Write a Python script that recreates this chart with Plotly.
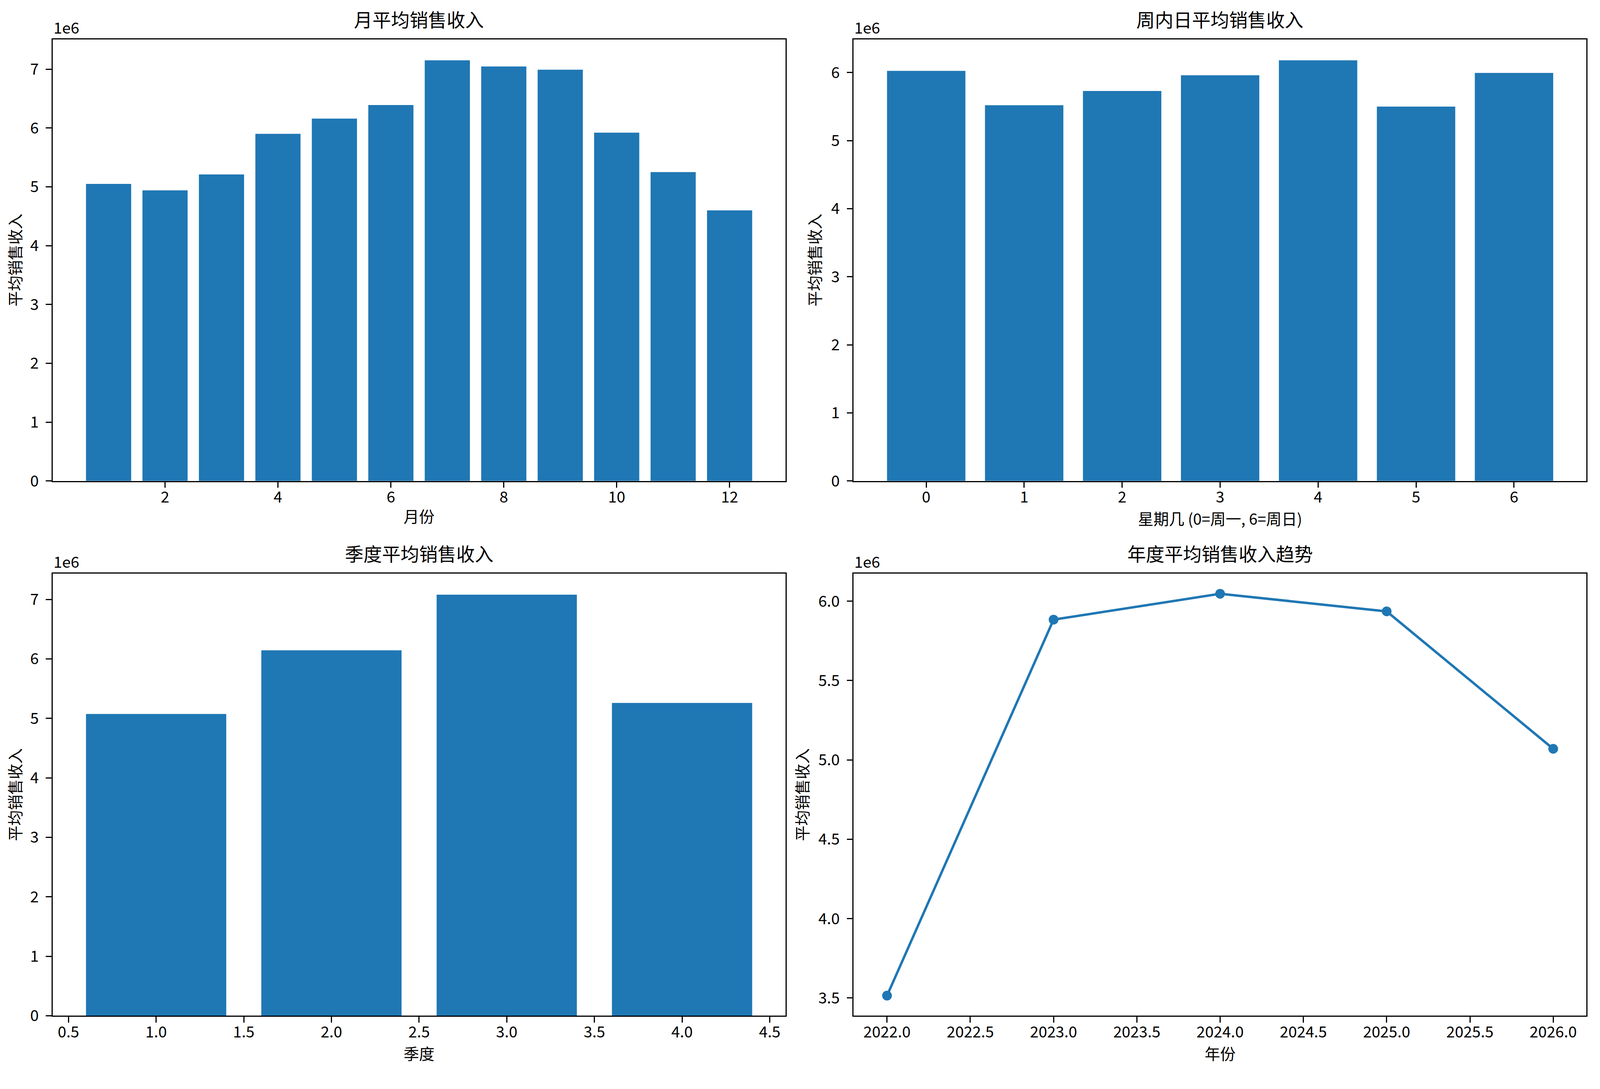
import plotly.graph_objects as go

# 数据 (单位: 元)
months = [1, 2, 3, 4, 5, 6, 7, 8, 9, 10, 11, 12]
month_avg = [5.05e6, 4.94e6, 5.21e6, 5.90e6, 6.16e6, 6.39e6,
             7.15e6, 7.045e6, 6.99e6, 5.92e6, 5.25e6, 4.60e6]

weekdays = [0, 1, 2, 3, 4, 5, 6]
weekday_avg = [6.025e6, 5.52e6, 5.73e6, 5.96e6, 6.18e6, 5.50e6, 5.995e6]

quarters = [1, 2, 3, 4]
quarter_avg = [5.075e6, 6.145e6, 7.08e6, 5.26e6]

years = [2022, 2023, 2024, 2025, 2026]
year_avg = [3.515e6, 5.884e6, 6.047e6, 5.936e6, 5.07e6]

BLUE = "#1f77b4"
FONT = "Noto Sans CJK SC"
W, H = 4469, 2789
PT = 300 / 72      # px per point (figure saved at 300 dpi)
FS = 0.95          # text scale

# axes domains (paper fractions)
LEFT = [0.0311, 0.4909]
RIGHT = [0.5337, 0.9935]
TOP = [1 - 1242 / H, 1 - 94 / H]
BOTTOM = [1 - 2632 / H, 1 - 1483 / H]

fig = go.Figure()

fig.add_trace(go.Bar(x=months, y=month_avg, width=0.8, marker=dict(color=BLUE, line=dict(width=0)),
                     xaxis="x", yaxis="y"))
fig.add_trace(go.Bar(x=weekdays, y=weekday_avg, width=0.8, marker=dict(color=BLUE, line=dict(width=0)),
                     xaxis="x2", yaxis="y2"))
fig.add_trace(go.Bar(x=quarters, y=quarter_avg, width=0.8, marker=dict(color=BLUE, line=dict(width=0)),
                     xaxis="x3", yaxis="y3"))
fig.add_trace(go.Scatter(x=years, y=year_avg, mode="lines+markers",
                         line=dict(color=BLUE, width=1.5 * PT), marker=dict(color=BLUE, size=6 * PT),
                         xaxis="x4", yaxis="y4"))


def ax_style(domain, anchor, title, standoff, **kw):
    d = dict(domain=domain, anchor=anchor, showline=True, mirror=True, linecolor="black",
             linewidth=0.8 * PT, ticks="outside", ticklen=3.5 * PT, tickwidth=0.8 * PT, tickcolor="black",
             ticklabelstandoff=standoff,
             showgrid=False, zeroline=False,
             tickfont=dict(family=FONT, size=10 * PT * FS, color="black"),
             title=dict(text=title, font=dict(family=FONT, size=10 * PT * FS, color="black"), standoff=14))
    d.update(kw)
    return d


def mil_ticks(vals, fmt):
    return dict(tickvals=vals, ticktext=[fmt.format(v / 1e6) for v in vals])


y_int = [i * 1e6 for i in range(8)]
y_half = [3.5e6, 4.0e6, 4.5e6, 5.0e6, 5.5e6, 6.0e6]

ymin4 = min(year_avg) - 0.05 * (max(year_avg) - min(year_avg))
ymax4 = max(year_avg) + 0.05 * (max(year_avg) - min(year_avg))

XS, YS = -10, 10

fig.update_layout(
    autosize=True,
    margin=dict(l=0, r=0, t=0, b=0),
    paper_bgcolor="white", plot_bgcolor="white",
    showlegend=False,
    font=dict(family=FONT, color="black"),
    xaxis=ax_style(LEFT, "y", "月份", XS, range=[0.01, 12.99], tickvals=[2, 4, 6, 8, 10, 12]),
    yaxis=ax_style(TOP, "x", "平均销售收入", YS, range=[0, max(month_avg) * 1.05],
                   **mil_ticks(y_int, "{:.0f}")),
    xaxis2=ax_style(RIGHT, "y2", "星期几 (0=周一, 6=周日)", XS, range=[-0.74, 6.74], tickvals=weekdays),
    yaxis2=ax_style(TOP, "x2", "平均销售收入", YS, range=[0, max(weekday_avg) * 1.05],
                    **mil_ticks(y_int[:7], "{:.0f}")),
    xaxis3=ax_style(LEFT, "y3", "季度", XS, range=[0.41, 4.59],
                    tickvals=[0.5, 1.0, 1.5, 2.0, 2.5, 3.0, 3.5, 4.0, 4.5], tickformat=".1f"),
    yaxis3=ax_style(BOTTOM, "x3", "平均销售收入", YS, range=[0, max(quarter_avg) * 1.05],
                    **mil_ticks(y_int, "{:.0f}")),
    xaxis4=ax_style(RIGHT, "y4", "年份", XS, range=[2021.8, 2026.2],
                    tickvals=[2022, 2022.5, 2023, 2023.5, 2024, 2024.5, 2025, 2025.5, 2026], tickformat=".1f"),
    yaxis4=ax_style(BOTTOM, "x4", "平均销售收入", YS, range=[ymin4, ymax4], **mil_ticks(y_half, "{:.1f}")),
)

# subplot titles and offset text
titles = [("月平均销售收入", LEFT, TOP), ("周内日平均销售收入", RIGHT, TOP),
          ("季度平均销售收入", LEFT, BOTTOM), ("年度平均销售收入趋势", RIGHT, BOTTOM)]
for text, xd, yd in titles:
    fig.add_annotation(text=text, x=(xd[0] + xd[1]) / 2, y=yd[1], xref="paper", yref="paper",
                       xanchor="center", yanchor="bottom", yshift=16, showarrow=False,
                       font=dict(family=FONT, size=12 * PT * FS, color="black"))
    fig.add_annotation(text="1e6", x=xd[0], y=yd[1], xref="paper", yref="paper",
                       xanchor="left", yanchor="bottom", yshift=2, showarrow=False,
                       font=dict(family=FONT, size=10 * PT * FS, color="black"))

fig.write_html("out.html")
